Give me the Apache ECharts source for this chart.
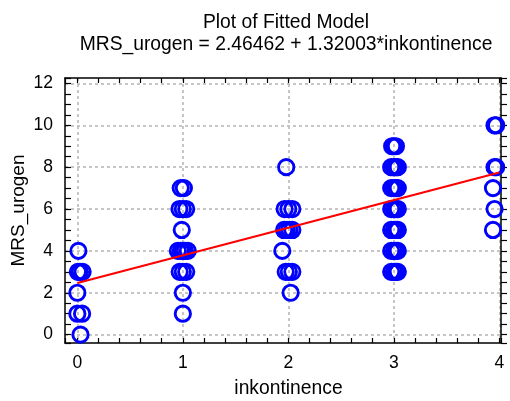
<!DOCTYPE html>
<html><head><meta charset="utf-8">
<script src="https://cdn.jsdelivr.net/npm/echarts@6/dist/echarts.min.js"></script>
<style>html,body{margin:0;padding:0;background:#fff}#c{width:510px;height:401px}</style>
</head><body><div id="c"></div>
<script>
const titleLines = ['Plot of Fitted Model', 'MRS_urogen = 2.46462 + 1.32003*inkontinence'];
const xName = 'inkontinence';
const yName = 'MRS_urogen';
// observed points (x includes the small horizontal jitter seen in the plot)
const inkontinence = [
  0.03, 0.00, 0.045, 0.00, 0.005, 0.025, 0.05, 0.01,
  1.00, 1.00, 0.97, 1.00, 1.032, 0.953, 0.98, 1.00, 1.02, 1.047, 0.99, 0.968, 1.00, 1.032, 0.98, 1.01,
  2.022, 1.975, 2.005, 2.038, 1.943, 1.96, 1.985, 2.01, 2.038, 1.965, 2.00, 2.038, 1.98,
  2.975, 3.00, 3.02, 3.038, 2.975, 3.00, 3.02, 3.038, 2.975, 3.00, 3.02, 3.038,
  2.975, 3.00, 3.02, 3.038, 2.975, 3.00, 3.02, 3.038, 2.975, 3.00, 3.02, 3.038, 2.984, 3.00, 3.02,
  3.94, 3.955, 3.94, 3.955, 3.97, 3.955, 3.97
];
const mrsUrogen = [
  0, 1, 1, 2, 3, 3, 3, 4,
  1, 2, 3, 3, 3, 4, 4, 4, 4, 4, 5, 6, 6, 6, 7, 7,
  2, 3, 3, 3, 4, 5, 5, 5, 5, 6, 6, 6, 8,
  3, 3, 3, 3, 4, 4, 4, 4, 5, 5, 5, 5,
  6, 6, 6, 6, 7, 7, 7, 7, 8, 8, 8, 8, 9, 9, 9,
  5, 6, 7, 8, 8, 10, 10
];
const intercept = 2.46462;
const slope = 1.32003;
const fitX = [0, 4];
const xRange = [-0.117, 4.016];
const yRange = [-0.4, 12.26];

const FONT = '"Liberation Sans", Arial, sans-serif';
const intLabel = v => Math.abs(v - Math.round(v)) < 1e-9 ? String(Math.round(v)) : '';
const blackLine = { show: true, onZero: false, lineStyle: { color: '#000', width: 1.5 } };
const noLine = { show: false, onZero: false };

const chart = echarts.init(document.getElementById('c'), null, { renderer: 'canvas' });
chart.setOption({
  animation: false,
  backgroundColor: '#fff',
  title: {
    text: titleLines.join('\n'),
    left: 281, top: 7, textAlign: 'center',
    textStyle: { fontFamily: FONT, fontSize: 19.3, fontWeight: 'normal', color: '#000', lineHeight: 21.5 }
  },
  grid: { left: 65, right: 9, top: 78, bottom: 58, containLabel: false, outerBoundsMode: 'none' },
  xAxis: [
    {
      type: 'value', position: 'bottom', min: xRange[0], max: xRange[1], splitNumber: 4,
      axisLine: blackLine, axisTick: { show: false },
      splitLine: { show: true, showMinLine: false, showMaxLine: false, lineStyle: { color: '#bdbdbd', width: 1.7, type: [3, 3] } },
      axisLabel: { formatter: intLabel, showMinLabel: false, showMaxLabel: false, fontFamily: FONT, fontSize: 17.5, color: '#000', margin: 11 },
      name: xName, nameLocation: 'middle', nameGap: 36, nameMoveOverlap: false,
      nameTextStyle: { fontFamily: FONT, fontSize: 19.3, color: '#000', padding: [0, 0, 0, 11] }
    },
    {
      type: 'value', position: 'bottom', min: xRange[0], max: xRange[1], splitNumber: 20,
      axisLine: noLine, axisTick: { show: true, inside: true, length: 5, lineStyle: { color: '#000', width: 1.2 } },
      axisLabel: { show: false }, splitLine: { show: false }
    },
    {
      type: 'value', position: 'top', min: xRange[0], max: xRange[1], splitNumber: 20,
      axisLine: blackLine, axisTick: { show: true, inside: true, length: 5, lineStyle: { color: '#000', width: 1.2 } },
      axisLabel: { show: false }, splitLine: { show: false }
    }
  ],
  yAxis: [
    {
      type: 'value', position: 'left', min: yRange[0], max: yRange[1], splitNumber: 6,
      axisLine: blackLine, axisTick: { show: false },
      splitLine: { show: true, showMinLine: false, showMaxLine: false, lineStyle: { color: '#bdbdbd', width: 1.7, type: [3, 3] } },
      axisLabel: { formatter: intLabel, showMinLabel: false, showMaxLabel: false, fontFamily: FONT, fontSize: 17.5, color: '#000', margin: 12 },
      name: yName, nameLocation: 'middle', nameGap: 37, nameMoveOverlap: false,
      nameTextStyle: { fontFamily: FONT, fontSize: 19, color: '#000' }
    },
    {
      type: 'value', position: 'left', min: yRange[0], max: yRange[1], splitNumber: 25,
      axisLine: noLine, axisTick: { show: true, inside: true, length: 6, lineStyle: { color: '#000', width: 1.2 } },
      axisLabel: { show: false }, splitLine: { show: false }
    },
    {
      type: 'value', position: 'right', min: yRange[0], max: yRange[1], splitNumber: 25,
      axisLine: blackLine, axisTick: { show: true, inside: false, length: 6, lineStyle: { color: '#000', width: 1.2 } },
      axisLabel: { show: false }, splitLine: { show: false }
    }
  ],
  series: [
    {
      type: 'scatter', xAxisIndex: 0, yAxisIndex: 0,
      data: inkontinence.map((x, i) => [x, mrsUrogen[i]]),
      symbol: 'circle', symbolSize: 15.3,
      itemStyle: { color: 'rgba(0,0,0,0)', borderColor: '#0000ff', borderWidth: 2.9, opacity: 1 },
      emphasis: { disabled: true }, z: 3
    },
    {
      type: 'line', xAxisIndex: 0, yAxisIndex: 0,
      data: fitX.map(x => [x, intercept + slope * x]),
      symbol: 'none', lineStyle: { color: '#ff0000', width: 2.2 },
      emphasis: { disabled: true }, z: 4
    }
  ]
});
</script></body></html>
